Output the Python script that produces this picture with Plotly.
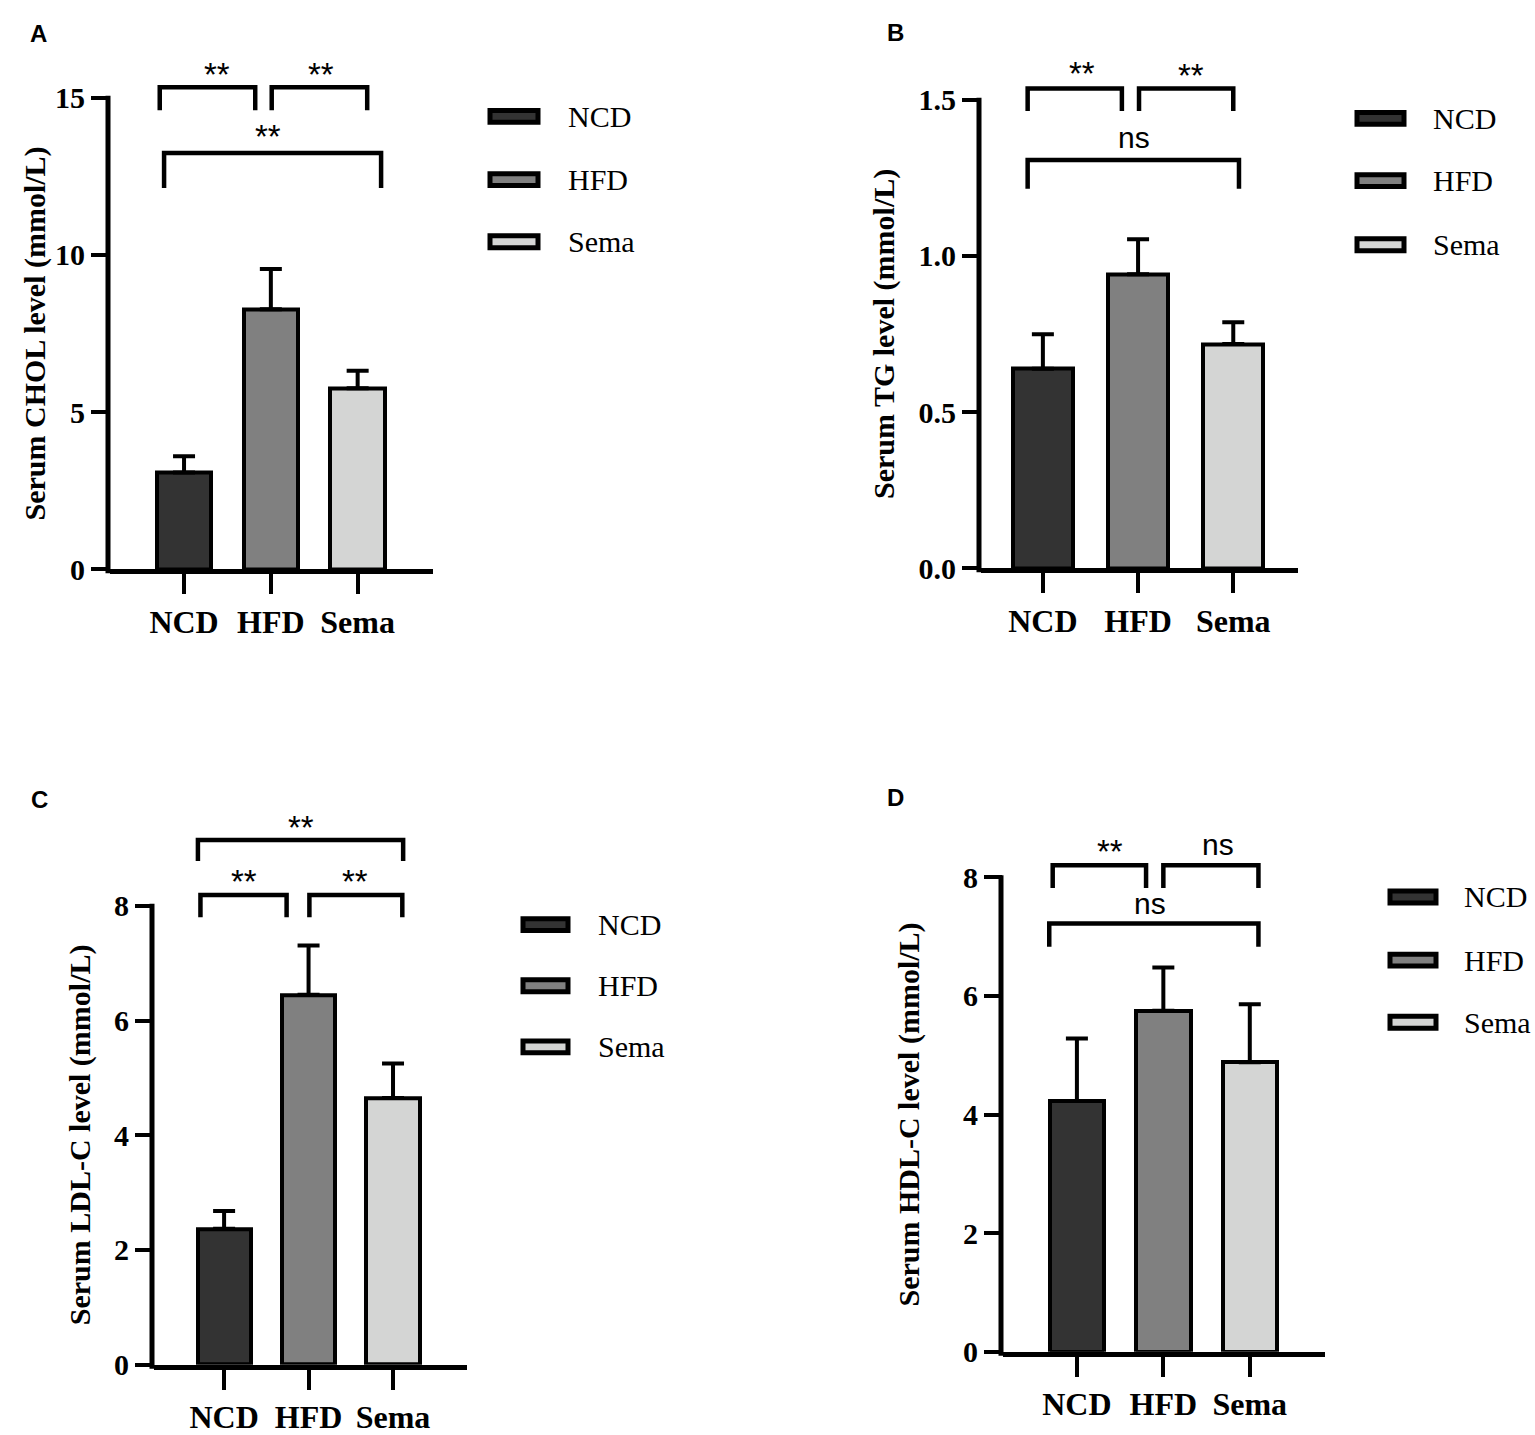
import plotly.graph_objects as go

groups = ["NCD", "HFD", "Sema"]
bar_colors = ["#333333", "#808080", "#d4d5d4"]

# mean and upper error (SD)
chol_mean = [3.08, 8.27, 5.76]
chol_err = [0.52, 1.28, 0.56]
tg_mean = [0.639, 0.941, 0.718]
tg_err = [0.110, 0.112, 0.070]
ldl_mean = [2.37, 6.45, 4.65]
ldl_err = [0.31, 0.86, 0.60]
hdl_mean = [4.23, 5.75, 4.88]
hdl_err = [1.05, 0.73, 0.98]

chol_ticks = [0, 5, 10, 15]
tg_ticks = [0, 0.5, 1.0, 1.5]
ldl_ticks = [0, 2, 4, 6, 8]
hdl_ticks = [0, 2, 4, 6, 8]

# significance brackets: (left, right, bar height, leg end, label, label x, label y)
chol_sig = [(-0.28, 0.82, 15.33, 14.6, "**", 0.38, 15.75),
            (1.01, 2.11, 15.33, 14.6, "**", 1.58, 15.75),
            (-0.23, 2.27, 13.24, 12.13, "**", 0.97, 13.78)]
tg_sig = [(-0.16, 0.83, 1.536, 1.464, "**", 0.41, 1.583),
          (1.01, 2.0, 1.536, 1.464, "**", 1.56, 1.576),
          (-0.16, 2.06, 1.307, 1.215, "ns", 0.96, 1.368)]
ldl_sig = [(-0.31, 2.12, 9.15, 8.78, "**", 0.91, 9.36),
           (-0.28, 0.74, 8.19, 7.80, "**", 0.24, 8.42),
           (1.01, 2.11, 8.19, 7.80, "**", 1.55, 8.42)]
hdl_sig = [(-0.28, 0.80, 8.2, 7.82, "**", 0.385, 8.43),
           (1.0, 2.10, 8.2, 7.82, "ns", 1.63, 8.5),
           (-0.32, 2.10, 7.22, 6.83, "ns", 0.84, 7.5)]

W, H = 1535, 1435
SERIF = "Liberation Serif"
SANS = "Liberation Sans"


def fx(px):
    return px / W


def fy(py):
    return 1 - py / H


fig = go.Figure()
shapes = []
annos = []


def add_panel(n, letter, letter_pos, title, title_x, mean, err, ticks, tickfmt, sig, geo, legend):
    sfx = "" if n == 1 else str(n)
    left, right, xr, y0, top_px, ytop_val, ytop_px = geo
    ppu = (y0 - ytop_px) / ytop_val
    ymax = (y0 - top_px) / ppu
    xa, ya = "x" + sfx, "y" + sfx

    fig.add_trace(go.Bar(
        x=list(range(len(groups))), y=mean, width=0.63,
        xaxis=xa, yaxis=ya, showlegend=False,
        marker=dict(color=bar_colors, line=dict(color="black", width=4)),
        error_y=dict(type="data", array=err, arrayminus=[0] * len(err), symmetric=False,
                     color="black", thickness=4, width=11),
    ))

    fig.update_layout(**{
        "xaxis" + sfx: dict(domain=[fx(left), fx(right)], range=xr, anchor=ya,
                            showline=True, linewidth=5, linecolor="black",
                            ticks="outside", ticklen=20, tickwidth=4, tickcolor="black",
                            tickvals=list(range(len(groups))), ticktext=groups,
                            tickfont=dict(family=SERIF, size=32, color="black", weight="bold"),
                            showgrid=False, zeroline=False, fixedrange=True),
        "yaxis" + sfx: dict(domain=[fy(y0), fy(top_px)], range=[0, ymax], anchor=xa,
                            showline=False, ticks="outside", ticklen=18, tickwidth=4,
                            tickcolor="black", tickvals=ticks, tickformat=tickfmt,
                            tickfont=dict(family=SERIF, size=30, color="black", weight="bold"),
                            showgrid=False, zeroline=False, fixedrange=True),
    })

    # y axis line only up to the top tick
    shapes.append(dict(type="line", xref="paper", yref="paper",
                       x0=fx(left - 2), x1=fx(left - 2), y0=fy(y0 + 4), y1=fy(ytop_px - 2),
                       line=dict(color="black", width=5)))

    annos.append(dict(text=title, textangle=-90, xref="paper", yref=ya,
                      x=fx(title_x), y=ytop_val / 2, showarrow=False,
                      font=dict(family=SERIF, size=30, color="black", weight="bold")))

    annos.append(dict(text="<b>" + letter + "</b>", xref="paper", yref="paper",
                      x=fx(letter_pos[0]), y=fy(letter_pos[1]), showarrow=False,
                      font=dict(family=SANS, size=24, color="black")))

    for x0, x1, yb, yl, lab, lx, ly in sig:
        shapes.append(dict(type="path", xref=xa, yref=ya,
                           path="M %f,%f L %f,%f L %f,%f L %f,%f" % (x0, yl, x0, yb, x1, yb, x1, yl),
                           line=dict(color="black", width=4.5)))
        if lab == "**":
            size, shift = 33, 0
        else:
            size, shift = 30, 3
        annos.append(dict(text=lab, xref=xa, yref=ya, x=lx, y=ly, yshift=shift,
                          showarrow=False, yanchor="middle",
                          font=dict(family=SANS, size=size, color="black")))

    # legend drawn by hand: wide boxes with thick border
    sw0, sw1, tx, rows = legend
    for name, col, ry in zip(groups, bar_colors, rows):
        shapes.append(dict(type="rect", xref="paper", yref="paper",
                           x0=fx(sw0 + 2), x1=fx(sw1 - 2), y0=fy(ry + 6), y1=fy(ry - 6),
                           fillcolor=col, line=dict(color="black", width=5)))
        annos.append(dict(text=name, xref="paper", yref="paper", x=fx(tx), y=fy(ry),
                          xanchor="left", yanchor="middle", showarrow=False,
                          font=dict(family=SERIF, size=30, color="black")))


add_panel(1, "A", (28, 18), "Serum CHOL level (mmol/L)", 16, chol_mean, chol_err,
          chol_ticks, "d", chol_sig,
          (110, 433, [-0.853, 2.868], 577, 40, 15, 99),
          (488, 540, 566, [118, 182, 245]))
add_panel(2, "B", (895, 17), "Serum TG level (mmol/L)", 884, tg_mean, tg_err,
          tg_ticks, ".1f", tg_sig,
          (981, 1298, [-0.65, 2.68], 576, 40, 1.5, 101),
          (1355, 1406, 1431, [120, 183, 248]))
add_panel(3, "C", (29, 810), "Serum LDL-C level (mmol/L)", 61, ldl_mean, ldl_err,
          ldl_ticks, "d", ldl_sig,
          (154, 467, [-0.83, 2.876], 1383, 815, 8, 918),
          (521, 570, 596, [937, 999, 1061]))
add_panel(4, "D", (895, 808), "Serum HDL-C level (mmol/L)", 909, hdl_mean, hdl_err,
          hdl_ticks, "d", hdl_sig,
          (1003, 1325, [-0.855, 2.87], 1370, 830, 8, 889),
          (1388, 1438, 1462, [909, 973, 1036]))

fig.update_layout(width=W, height=H, margin=dict(l=0, r=0, t=0, b=0),
                  paper_bgcolor="white", plot_bgcolor="white",
                  shapes=shapes, annotations=annos, bargap=0)

# the page body has a default 8px margin; drop it so the figure fills the window
fig.write_html("out.html", config={"displayModeBar": False},
               post_script="document.body.style.margin = '0';")
